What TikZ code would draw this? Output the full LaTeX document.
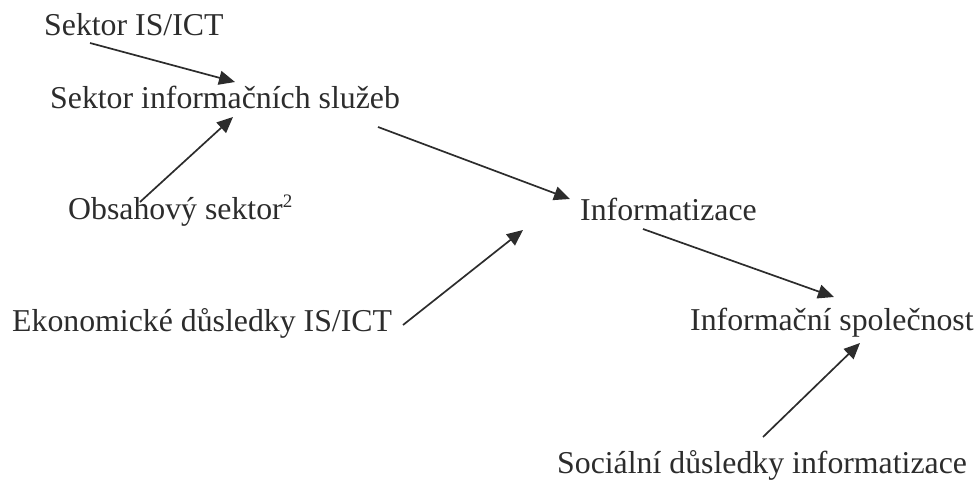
\documentclass[tikz,border=0pt]{standalone}
\usepackage{fontspec}
\setmainfont{Liberation Serif}
\usetikzlibrary{arrows.meta}
\definecolor{ink}{HTML}{2C2C2C}
\tikzset{
  lbl/.style={anchor=base west, inner sep=0pt, text=ink, font=\fontsize{31.8}{36}\selectfont},
  link/.style={draw=ink, line width=1.7pt, -{Triangle[length=16pt,width=14pt]}}
}
\begin{document}
\begin{tikzpicture}[x=1pt,y=-1pt]
\useasboundingbox (0,0) rectangle (977,481);
\node[lbl] (ict) at (44,36) {Sektor IS/ICT};
\node[lbl] (sis) at (50,109) {Sektor informačních služeb};
\node[lbl] (obs) at (68,220) {Obsahový sektor\raisebox{13pt}{\fontsize{19}{19}\selectfont 2}};
\node[lbl] (inf) at (580,221) {Informatizace};
\node[lbl] (eko) at (12,331) {Ekonomické důsledky IS/ICT};
\node[lbl] (spol) at (690,330) {Informační společnost};
\node[lbl] (soc) at (557,473) {Sociální důsledky informatizace};
\draw[link] ([shift={(46,7)}]ict.base west) -- ([shift={(185,-27)}]sis.base west);
\draw[link] ([shift={(72,-18)}]obs.base west) -- ([shift={(183,8)}]sis.base west);
\draw[link] ([shift={(328,18)}]sis.base west) -- ([shift={(-10,-22)}]inf.base west);
\draw[link] ([shift={(391,-6)}]eko.base west) -- ([shift={(-57,9)}]inf.base west);
\draw[link] ([shift={(63,8)}]inf.base west) -- ([shift={(144,-33)}]spol.base west);
\draw[link] ([shift={(206,-36)}]soc.base west) -- ([shift={(170,13)}]spol.base west);
\end{tikzpicture}
\end{document}
